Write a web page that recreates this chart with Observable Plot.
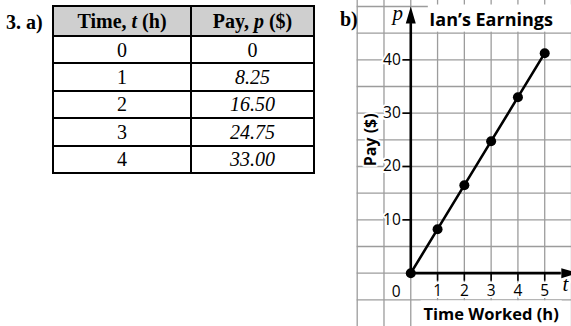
<!DOCTYPE html>
<html><head><meta charset="utf-8">
<script src="https://cdn.jsdelivr.net/npm/d3@7"></script>
<script src="https://cdn.jsdelivr.net/npm/@observablehq/plot@0.6"></script>
<style>
html,body{margin:0;padding:0;background:#fff;}
#wrap{position:relative;width:571px;height:326px;overflow:hidden;background:#fff;}
.lbl{position:absolute;font-family:"Liberation Serif","Times New Roman",serif;font-weight:bold;font-size:20px;line-height:20px;z-index:2;white-space:nowrap;}
#tbl{position:absolute;left:52px;top:5px;border-collapse:collapse;table-layout:fixed;width:261px;font-family:"Liberation Serif","Times New Roman",serif;font-size:20px;}
#tbl td,#tbl th{border:2px solid #000;padding:0;text-align:center;line-height:20px;}
#tbl th{background:#cfcfcf;height:28px;font-weight:bold;}
#tbl td{height:25.4px;}
#chart{position:absolute;left:340px;top:0;z-index:1;}
</style></head>
<body>
<div id="wrap">
  <div class="lbl" style="left:6px;top:12px;">3. a)</div>
  <table id="tbl"><colgroup><col style="width:138px"><col style="width:123px"></colgroup><thead><tr id="hdr"></tr></thead><tbody id="body"></tbody></table>
  <div class="lbl" style="left:340px;top:9px;">b)</div>
  <div id="chart"></div>
</div>
<script>
// ---------- data ----------
const tableHeaderParts = [["Time, ", "t", " (h)"], ["Pay, ", "p", " ($)"]];
const tableTime = ["0", "1", "2", "3", "4"];
const tablePay = ["0", "8.25", "16.50", "24.75", "33.00"];

const hours = [0, 1, 2, 3, 4, 5];
const pay = [0, 8.25, 16.5, 24.75, 33, 41.25];
const xTickValues = [1, 2, 3, 4, 5];
const yTickValues = [10, 20, 30, 40];
const gridT = [-2, -1, 0, 1, 2, 3, 4, 5, 6];
const gridP = [-5, 0, 5, 10, 15, 20, 25, 30, 35, 40, 45, 50];
const chartTitle = "Ian\u2019s Earnings";
const xLabel = "Time Worked (h)";
const yLabel = "Pay ($)";
const xVar = "t";
const yVar = "p";
const originLabel = "0";

// ---------- table ----------
const hdr = document.getElementById("hdr");
tableHeaderParts.forEach(parts => {
  const th = document.createElement("th");
  th.append(parts[0]);
  const i = document.createElement("i"); i.textContent = parts[1]; th.append(i);
  th.append(parts[2]);
  hdr.append(th);
});
const tb = document.getElementById("body");
tableTime.forEach((t, k) => {
  const tr = document.createElement("tr");
  const a = document.createElement("td"); a.textContent = t;
  const b = document.createElement("td"); b.textContent = tablePay[k];
  if (k > 0) b.style.fontStyle = "italic";
  tr.append(a, b); tb.append(tr);
});

// ---------- chart ----------
const W = 231, H = 326, ML = 16.7;
const xDomain = [-2, 6], yDomain = [-10, 51.125];
const pxT = (W - ML) / (xDomain[1] - xDomain[0]);
const pxP = H / (yDomain[1] - yDomain[0]);
const tickLen = 8;
const gridColor = "#9c9c9c";
const sans = "'Open Sans', 'DejaVu Sans', sans-serif";
const serif = "'Liberation Serif', serif";
const pts = hours.map((h, i) => ({t: h, p: pay[i]}));
const yArrowBase = 46.8, xArrowBase = 5.62;

const halo = {stroke: "white", strokeWidth: 4, paintOrder: "stroke", fill: "black"};

const plot = Plot.plot({
  width: W, height: H,
  marginLeft: ML, marginRight: 0, marginTop: 0, marginBottom: 0,
  x: {domain: xDomain, axis: null},
  y: {domain: yDomain, axis: null},
  style: {background: "transparent", overflow: "hidden"},
  marks: [
    Plot.ruleX(gridT, {stroke: gridColor, strokeWidth: 1.3}),
    Plot.ruleY(gridP, {stroke: gridColor, strokeWidth: 1.3}),
    Plot.ruleX([0], {y1: 0, y2: yArrowBase, stroke: "black", strokeWidth: 2.6}),
    Plot.ruleY([0], {x1: 0, x2: xArrowBase, stroke: "black", strokeWidth: 2.6}),
    Plot.vector([{t: 0, p: yArrowBase}], {x: "t", y: "p", length: 17, r: 5, shape: "spike", anchor: "start", fill: "black", stroke: null}),
    Plot.vector([{t: xArrowBase, p: 0}], {x: "t", y: "p", length: 17, r: 5, rotate: 90, shape: "spike", anchor: "start", fill: "black", stroke: null}),
    Plot.ruleY(yTickValues, {x1: 0, x2: -tickLen / pxT, stroke: "black", strokeWidth: 1.6}),
    Plot.ruleX(xTickValues, {y1: 0, y2: -tickLen / pxP, stroke: "black", strokeWidth: 1.6}),
    Plot.text(yTickValues, {x: () => 0, y: d => d, text: d => String(d), textAnchor: "end", dx: -10, fontSize: 15.5, fontFamily: sans, ...halo}),
    Plot.text(xTickValues, {x: d => d, y: () => 0, text: d => String(d), dy: 17.5, fontSize: 15.5, fontFamily: sans, ...halo}),
    Plot.text([originLabel], {x: () => 0, y: () => 0, text: d => d, dx: -14.5, dy: 18.5, fontSize: 15.5, fontFamily: sans, ...halo}),
    Plot.text([yVar], {x: () => 0, y: () => 50, text: d => d, dx: -13, dy: 7, fontSize: 21, fontStyle: "italic", fontFamily: serif, ...halo}),
    Plot.text([xVar], {x: () => 6, y: () => 0, text: d => d, dx: -6, dy: 11, fontSize: 21, fontStyle: "italic", fontFamily: serif, ...halo}),
    Plot.text([yLabel], {x: () => -1.5, y: () => 25, text: d => d, rotate: -90, fontSize: 16, fontWeight: "bold", fontFamily: sans, ...halo}),
    Plot.text([xLabel], {x: () => 3, frameAnchor: "bottom", lineAnchor: "middle", text: d => d, dy: -11.5, fontSize: 16.5, fontWeight: "bold", fontFamily: sans, fill: "black"}),
    Plot.text([chartTitle], {x: () => 3, frameAnchor: "top", lineAnchor: "middle", text: d => d, dy: 19.5, fontSize: 18, fontWeight: "bold", fontFamily: sans, fill: "black"}),
    Plot.line(pts, {x: "t", y: "p", stroke: "black", strokeWidth: 2.6}),
    Plot.dot(pts, {x: "t", y: "p", r: 5, fill: "black", stroke: null})
  ]
});
document.getElementById("chart").append(plot);

// white boxes behind title and x label (covering grid lines)
const ys = plot.scale("y");
const svgBox = plot.getBoundingClientRect();
function findText(str) {
  return Array.from(plot.querySelectorAll("text")).find(t => t.textContent === str);
}
function backBox(str, fx0, fx1, y0, y1) {
  const t = findText(str);
  if (!t) return;
  const b = t.getBoundingClientRect();
  const x0 = fx0(b.left - svgBox.left), x1 = fx1(b.right - svgBox.left);
  const r = document.createElementNS("http://www.w3.org/2000/svg", "rect");
  r.setAttribute("x", x0); r.setAttribute("y", y0);
  r.setAttribute("width", x1 - x0); r.setAttribute("height", y1 - y0);
  r.setAttribute("fill", "white");
  const g = t.closest("g");
  g.parentNode.insertBefore(r, g);
}
backBox(chartTitle, l => l - 1.5, r => W, ys.apply(50) - 1.5, ys.apply(45) - 1);
backBox(xLabel, l => l - 3, r => r + 3, ys.apply(-5) + 1, H);
</script>
</body></html>
